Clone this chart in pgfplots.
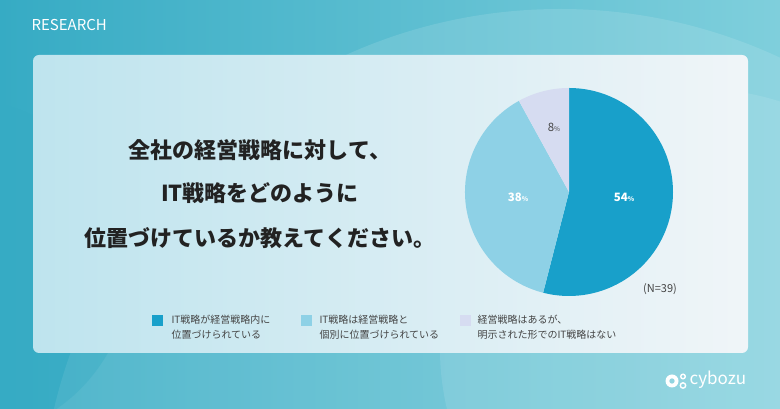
\documentclass[border=0pt]{standalone}
\usepackage{pgfplots}
\pgfplotsset{compat=1.18}
\usepackage{pgfplotstable}
\usepackage{fontspec}
\setmainfont{Noto Sans CJK JP}
\definecolor{bgA}{HTML}{36ABC4}
\definecolor{bgB}{HTML}{7FCFDC}
\definecolor{cardA}{HTML}{BEE4EE}
\definecolor{cardB}{HTML}{F0F5F8}
\definecolor{sA}{HTML}{18A0CA}
\definecolor{sB}{HTML}{8ED1E6}
\definecolor{sC}{HTML}{D6DCF1}
\definecolor{txt}{HTML}{222222}
\definecolor{leg}{HTML}{444444}
\pgfplotstableread{
value
54
38
8
}\piedata
\begin{document}
\begin{tikzpicture}
\begin{axis}[x=1pt,y=1pt,xmin=0,xmax=780,ymin=0,ymax=409,
  axis lines=none, scale only axis, clip=false]
% background
\begin{scope}
\clip (axis cs:0,0) rectangle (axis cs:780,409);
\shade[left color=bgA,right color=bgB] (axis cs:0,0) rectangle (axis cs:780,409);
\fill[white,opacity=0.12] (axis cs:560,-120) circle[radius=520pt];
\fill[white,opacity=0.10] (axis cs:700,60) circle[radius=260pt];
\fill[bgA,opacity=0.35] (axis cs:-40,140) circle[radius=170pt];
\end{scope}
% card
\shade[left color=cardA,right color=cardB,rounded corners=6pt] (axis cs:33,56) rectangle (axis cs:748,354);
% pie
\pgfplotstablegetelem{0}{value}\of\piedata \let\va\pgfplotsretval
\pgfplotstablegetelem{1}{value}\of\piedata \let\vb\pgfplotsretval
\pgfplotstablegetelem{2}{value}\of\piedata \let\vc\pgfplotsretval
\pgfmathsetmacro{\aA}{90}
\pgfmathsetmacro{\aB}{90-3.6*\va}
\pgfmathsetmacro{\aC}{\aB-3.6*\vb}
\pgfmathsetmacro{\aD}{\aC-3.6*\vc}
\fill[sA] (axis cs:569,217) -- ++(\aA:104pt) arc[start angle=\aA,end angle=\aB,radius=104pt] -- cycle;
\fill[sB] (axis cs:569,217) -- ++(\aB:104pt) arc[start angle=\aB,end angle=\aC,radius=104pt] -- cycle;
\fill[sC] (axis cs:569,217) -- ++(\aC:104pt) arc[start angle=\aC,end angle=\aD,radius=104pt] -- cycle;
\node[white,font=\bfseries\fontsize{11.5}{13}\selectfont] at (axis cs:624,212) {\va{\fontsize{6.5}{7}\selectfont\%}};
\node[white,font=\bfseries\fontsize{11.5}{13}\selectfont] at (axis cs:518,212) {\vb{\fontsize{6.5}{7}\selectfont\%}};
\node[leg,font=\fontsize{11.5}{13}\selectfont] at (axis cs:554,282) {\vc{\fontsize{6.5}{7}\selectfont\%}};
\node[leg,font=\fontsize{11}{13}\selectfont] at (axis cs:660,120) {(N=39)};
% title
\node[txt,font=\bfseries\fontsize{22}{26}\selectfont] at (axis cs:260,259) {全社の経営戦略に対して、};
\node[txt,font=\bfseries\fontsize{22}{26}\selectfont] at (axis cs:260,216) {IT戦略をどのように};
\node[txt,font=\bfseries\fontsize{22}{26}\selectfont] at (axis cs:260,171) {位置づけているか教えてください。};
% legend
\fill[sA] (axis cs:152,83) rectangle (axis cs:163,94);
\node[leg,anchor=north west,align=left,font=\fontsize{10}{14.5}\selectfont] at (axis cs:168,97) {IT戦略が経営戦略内に\\位置づけられている};
\fill[sB] (axis cs:301,83) rectangle (axis cs:312,94);
\node[leg,anchor=north west,align=left,font=\fontsize{10}{14.5}\selectfont] at (axis cs:316,97) {IT戦略は経営戦略と\\個別に位置づけられている};
\fill[sC] (axis cs:460,83) rectangle (axis cs:471,94);
\node[leg,anchor=north west,align=left,font=\fontsize{10}{14.5}\selectfont] at (axis cs:474,97) {経営戦略はあるが、\\明示された形でのIT戦略はない};
% header and logo
\node[white,anchor=west,font=\fontsize{15}{17}\selectfont] at (axis cs:28,384) {RESEARCH};
\fill[white,even odd rule] (axis cs:672,28) circle[radius=6.5pt] (axis cs:672,28) circle[radius=2.8pt];
\draw[white,line width=1.4pt] (axis cs:683,32.5) circle[radius=2.3pt] (axis cs:683,23.5) circle[radius=2.7pt];
\node[white,anchor=west,font=\fontsize{17}{18}\selectfont] at (axis cs:686,29) {cybozu};
\end{axis}
\end{tikzpicture}
\end{document}
